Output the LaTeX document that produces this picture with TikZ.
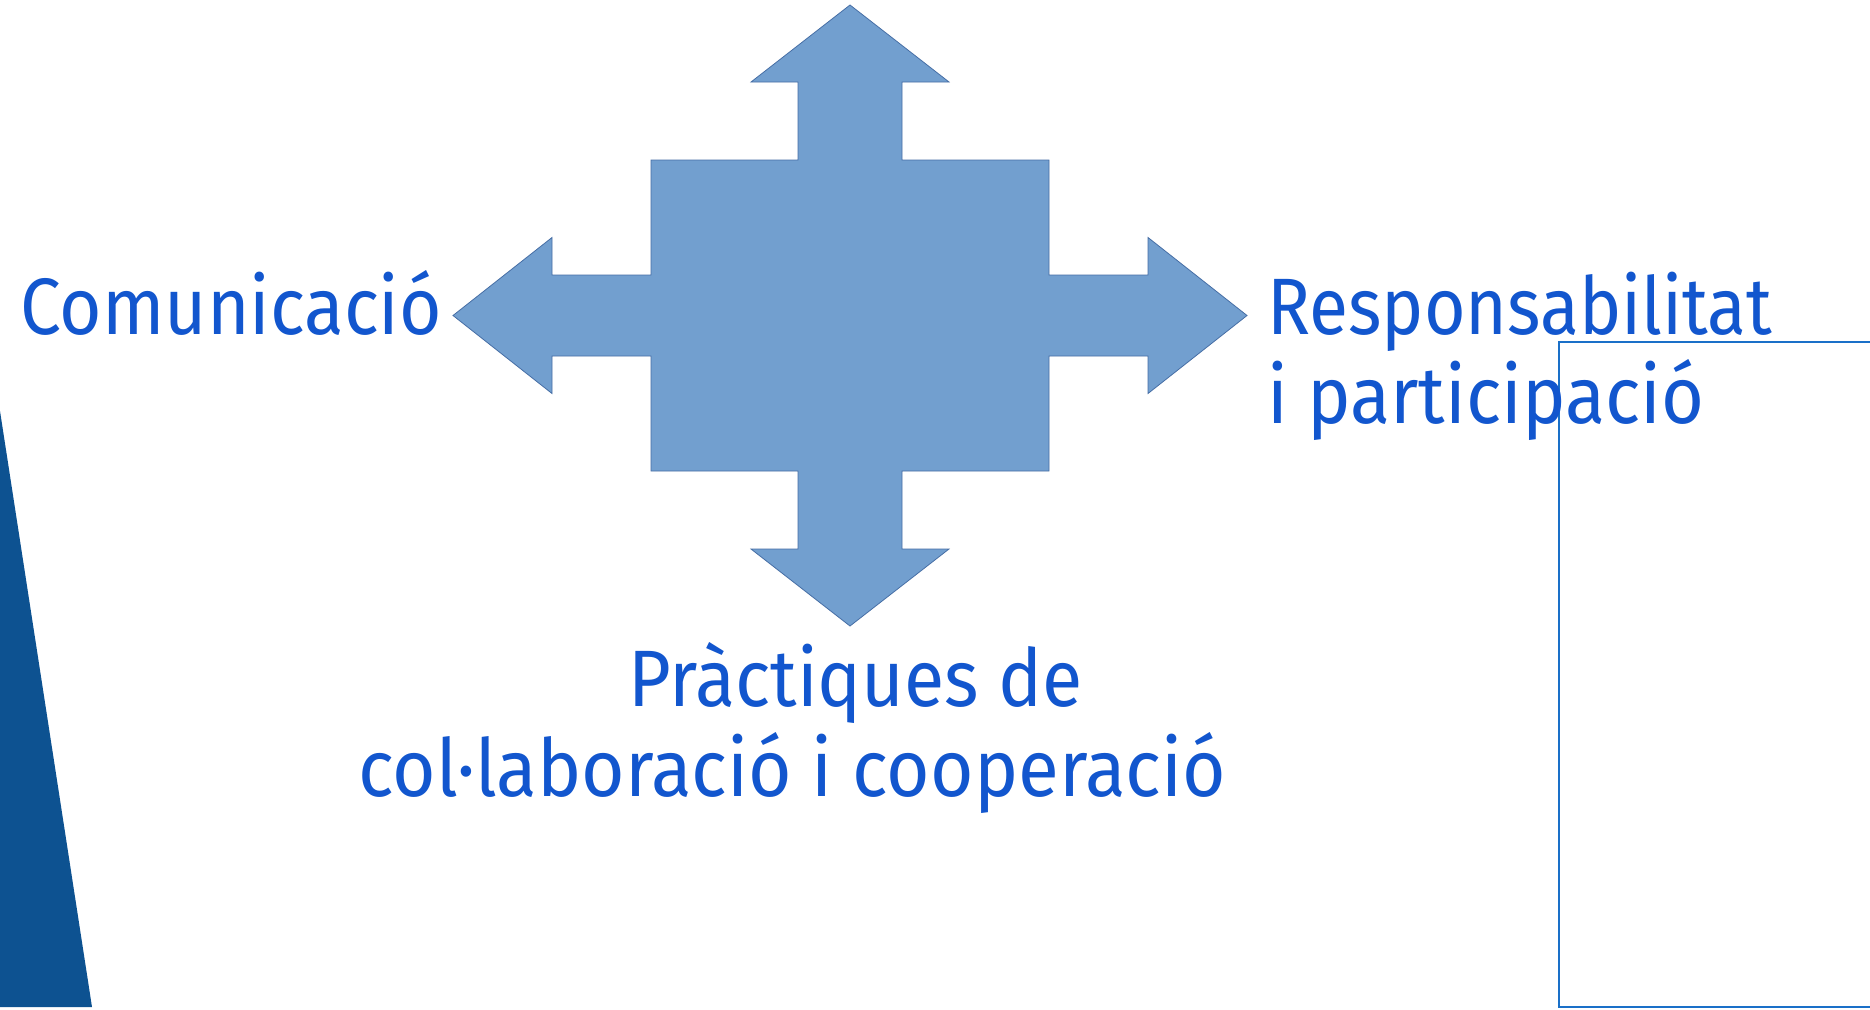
\documentclass[tikz,border=0pt]{standalone}
\usepackage{fontspec}
\newfontfamily\lbl[FakeStretch=0.92]{Fira Sans}
\definecolor{txtblue}{RGB}{18,86,206}
\definecolor{arrowfill}{RGB}{114,159,207}
\definecolor{arrowline}{RGB}{70,110,165}
\definecolor{darktri}{RGB}{13,82,145}
\definecolor{boxline}{RGB}{26,112,200}
\begin{document}
\begin{tikzpicture}[x=1pt,y=-1pt,
  lab/.style={font=\lbl\fontsize{80}{89}\selectfont, text=txtblue, inner sep=0pt, anchor=base west}]
\useasboundingbox (0,0) rectangle (1870,1009);
\fill[white] (0,0) rectangle (1870,1009);
% left dark triangle
\fill[darktri] (0,411) -- (92,1007) -- (0,1007) -- cycle;
% right frame
\draw[boxline, line width=2pt] (1880,342) -- (1559,342) -- (1559,1006.5) -- (1880,1006.5);
% four-way arrow
\coordinate (c) at (850,315.5);
\draw[fill=arrowfill, draw=arrowline, line width=0.8pt, line join=miter]
  (850,5) -- (949,82) -- (902,82) -- (902,160) -- (1049,160) -- (1049,275)
  -- (1148,275) -- (1148,237.5) -- (1247,315.5) -- (1148,393.5) -- (1148,356)
  -- (1049,356) -- (1049,471) -- (902,471) -- (902,549) -- (949,549)
  -- (850,626) -- (751,549) -- (798,549) -- (798,471) -- (651,471)
  -- (651,356) -- (552,356) -- (552,393.5) -- (453,315.5) -- (552,237.5)
  -- (552,275) -- (651,275) -- (651,160) -- (798,160) -- (798,82)
  -- (751,82) -- cycle;
% labels
\node[lab] (com) at (20,334) {\scalebox{0.99}[1]{Comunicació}};
\node[lab] (resp1) at (1267,334) {\scalebox{0.97}[1]{Responsabilitat}};
\node[lab] (resp2) at (1267,423) {i participació};
\node[lab] (prac1) at (628,706) {Pràctiques de};
\node[lab] (prac2) at (358,796) {\scalebox{1.014}[1]{col·laboració i cooperació}};
\end{tikzpicture}
\end{document}
